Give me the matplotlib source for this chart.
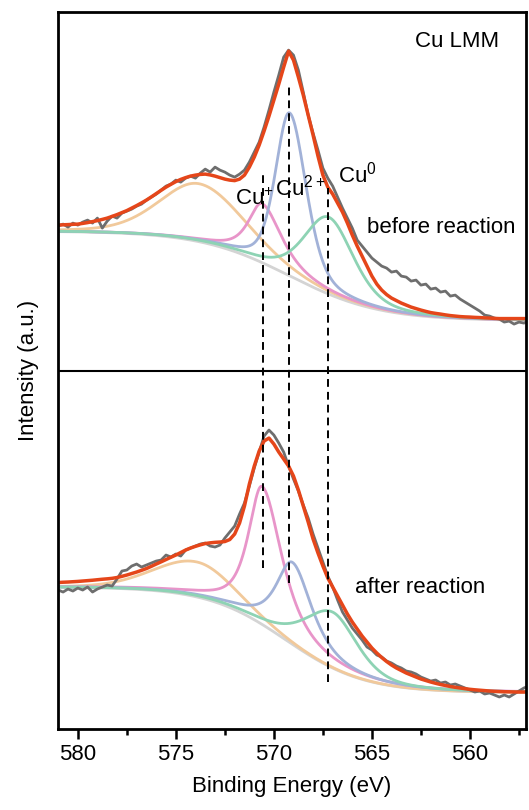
import numpy as np
import matplotlib.pyplot as plt
from matplotlib.ticker import MultipleLocator

plt.rcParams['font.family'] = ['Liberation Sans', 'DejaVu Sans']
plt.rcParams['mathtext.default'] = 'regular'

# measured spectra (binding energy scan, 0.25 eV step)
energy = np.linspace(581, 557, 97)
raw_before = [504, 506, 503, 507, 505, 508, 510, 507, 512, 502,
              509, 514, 512, 517, 519, 521, 524, 526, 530, 533,
              536, 540, 544, 546, 550, 548, 552, 554, 552, 557,
              561, 558, 563, 560, 558, 555, 553, 556, 560, 568,
              578, 588, 603, 620, 638, 655, 673, 680, 675, 660,
              638, 615, 597, 580, 562, 552, 544, 533, 522, 512,
              502, 490, 484, 478, 472, 468, 464, 462, 458, 459,
              454, 453, 449, 450, 445, 446, 441, 442, 438, 439,
              434, 435, 431, 428, 425, 422, 419, 415, 414, 412,
              411, 408, 409, 406, 408, 407, 409]
raw_after = [140, 138, 141, 139, 142, 140, 143, 138, 141, 143,
             145, 144, 151, 159, 160, 164, 166, 163, 165, 167,
             169, 170, 175, 173, 176, 174, 180, 182, 184, 186,
             187, 184, 183, 185, 192, 198, 204, 216, 227, 244,
             262, 278, 294, 300, 295, 287, 278, 264, 251, 239,
             225, 212, 196, 182, 168, 154, 143, 130, 118, 110,
             102, 96, 90, 83, 80, 75, 73, 69, 67, 64,
             62, 59, 58, 56, 53, 51, 49, 50, 47, 48,
             45, 46, 44, 42, 40, 38, 39, 36, 37, 35,
             33, 35, 33, 36, 39, 42, 44]

# cumulative fit (envelope), same energy grid
fit_before = [505, 505.3, 505.5, 505.8, 506, 506.7, 507.5, 508.5, 509.5, 510.7,
              512, 513.7, 515.5, 517.5, 519.5, 522, 524.5, 527.2, 530, 533.2,
              536.5, 539.8, 543, 545.8, 548.5, 550.7, 552.5, 554, 555, 555.7,
              556, 555.2, 554, 552.5, 551, 550, 549.5, 551, 555, 563,
              573, 585, 599, 614, 630, 646, 663, 679, 670, 653,
              635, 615, 595, 574, 555, 543, 536, 527, 518, 507,
              495, 484, 474, 464, 454, 446, 440, 435.5, 432, 429.5,
              427, 425, 423, 421.5, 420, 418.7, 417.5, 416.7, 416, 415.2,
              414.5, 414, 413.5, 413.2, 413, 412.7, 412.5, 412.2, 412, 411.7,
              411.5, 411.5, 411.5, 411.5, 411.5, 411.5, 411.5]
fit_after = [147.5, 147.8, 148, 148.3, 148.6, 149, 149.4, 149.8, 150.3, 150.8,
             151.2, 151.7, 152.5, 153.7, 155, 156.5, 158, 159.7, 161.5, 163.7,
             166, 168.2, 170.5, 172.8, 175, 177.5, 180, 182, 183.7, 185.2,
             186.5, 187.2, 187.7, 188, 188.5, 190.5, 196, 207, 224, 246,
             264, 279, 289, 292, 286, 278, 271, 264, 254, 240,
             224, 208, 191, 177, 164, 152, 143, 134, 125, 116,
             108, 101, 94, 88, 82, 77, 72.5, 68.5, 65, 62,
             59.5, 57, 55, 53, 51, 49.5, 48, 46.7, 45.5, 44.5,
             43.5, 42.7, 42, 41.3, 40.7, 40.2, 39.8, 39.4, 39, 38.7,
             38.5, 38.3, 38.2, 38.1, 38, 38, 38]

# fitted components: satellite, Cu+, Cu2+, Cu0
comp_colors = ['#f1c99b', '#e895c9', '#a2b2d8', '#8ed3b4']
before_center = [573.8, 570.6, 569.2, 567.2]
before_height = [58, 59, 163, 77]
before_wl = [2.4, 0.85, 0.85, 1.5]   # half width, high BE side
before_wr = [2.7, 1.2, 1.0, 1.5]     # half width, low BE side
before_eta = [0.3, 0.8, 0.4, 0.4]    # lorentzian fraction
before_bg = [499, 409.5, 569.2, 2.3]  # level high BE, level low BE, step centre, step width

after_center = [573.9, 570.6, 569.05, 567.0]
after_height = [35, 138, 82, 56]
after_wl = [2.6, 0.85, 1.0, 1.7]
after_wr = [2.2, 1.2, 1.2, 1.5]
after_eta = [0.2, 0.8, 0.8, 0.45]
after_bg = [143, 37.5, 569.4, 2.0]

peak_lines = [570.55, 569.22, 567.23]
peak_line_lo = [162, 147, 48]
peak_line_hi = [557, 643, 542]


def pvoigt(x, c, h, wl, wr, eta):
    w = np.where(x >= c, wl, wr)
    u = ((x - c) / w) ** 2
    return h * (eta / (1 + u) + (1 - eta) * np.exp(-np.log(2) * u))


def shirley_like(x, hi, lo, c, s):
    return lo + (hi - lo) / (1 + np.exp(-(x - c) / s))


fig = plt.figure(figsize=(5.29, 8.10), dpi=100)
ax = fig.add_axes([0.110, 0.100, 0.884, 0.885])
xs = np.linspace(581, 557, 1201)

panels = [
    (raw_before, fit_before, before_center, before_height, before_wl, before_wr, before_eta, before_bg),
    (raw_after, fit_after, after_center, after_height, after_wl, after_wr, after_eta, after_bg),
]
for raw, fit, cen, hgt, wl, wr, eta, bgp in panels:
    bg = shirley_like(xs, *bgp)
    ax.plot(xs, bg, color='#d4d4d4', lw=2)
    for i in range(4):
        p = pvoigt(xs, cen[i], hgt[i], wl[i], wr[i], eta[i])
        ax.plot(xs, bg + p, color=comp_colors[i], lw=2)
    ax.plot(energy, raw, color='#6e6e6e', lw=2)
    ax.plot(energy, fit, color='#e5461a', lw=2.5)

ax.vlines(peak_lines, peak_line_lo, peak_line_hi, colors='k', lw=1.4,
          linestyles=(0, (4, 2.6)))
ax.axhline(359, color='k', lw=1.5)

fs = 16
ax.text(562.8, 683, 'Cu LMM', fontsize=fs)
ax.text(565.26, 497, 'before reaction', fontsize=fs)
ax.text(565.87, 137, 'after reaction', fontsize=fs)
ax.text(566.72, 548, 'Cu$^{0}$', fontsize=fs)
ax.text(572.0, 525, 'Cu$^{+}$', fontsize=fs)
ax.text(569.95, 535, 'Cu$^{2+}$', fontsize=fs)

ax.set_xlim(581, 557.15)
ax.set_ylim(1, 718)
ax.set_yticks([])
ax.set_xticks([580, 575, 570, 565, 560])
ax.xaxis.set_minor_locator(MultipleLocator(2.5))
ax.tick_params(axis='x', which='major', length=7, width=1.8, labelsize=fs, pad=4)
ax.tick_params(axis='x', which='minor', length=4, width=1.8)
for sp in ax.spines.values():
    sp.set_linewidth(2)
ax.set_xlabel('Binding Energy (eV)', fontsize=fs, labelpad=8)
ax.set_ylabel('Intensity (a.u.)', fontsize=fs)
ax.yaxis.set_label_coords(-0.042, 0.5)

plt.savefig('out.png')
